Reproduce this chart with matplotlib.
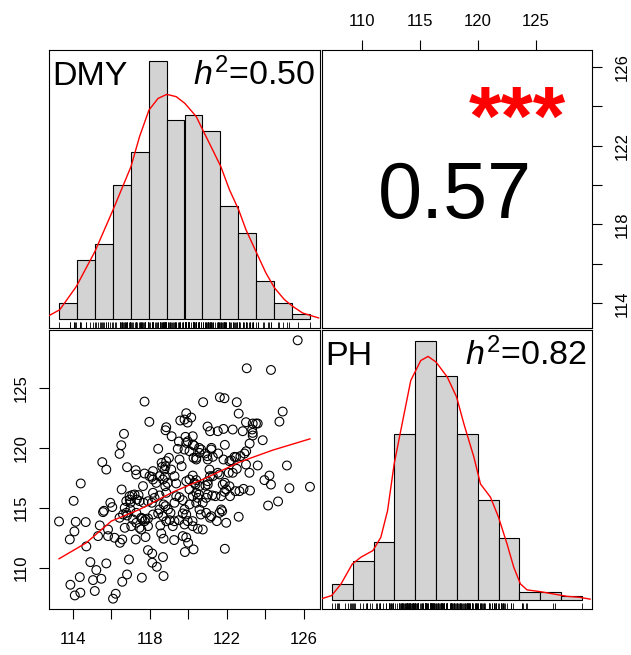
import matplotlib
matplotlib.use('Agg')
import matplotlib.pyplot as plt
import numpy as np

plt.rcParams['font.family'] = ['Liberation Sans', 'DejaVu Sans']
plt.rcParams['mathtext.fontset'] = 'custom'
plt.rcParams['mathtext.rm'] = 'Liberation Sans'
plt.rcParams['mathtext.it'] = 'Liberation Sans:italic'
plt.rcParams['mathtext.bf'] = 'Liberation Sans:bold'

# ---------------- data ----------------
variables = ['DMY', 'PH']
heritability = ['0.50', '0.82']
correlation = '0.57'
significance = '***'

dmy = [125.69, 123.04, 124.30, 117.72, 120.77, 121.64, 121.88, 122.52, 124.91, 122.62,
       124.74, 117.97, 119.58, 119.89, 120.15, 119.96, 123.00, 123.35, 123.52, 123.61,
       116.65, 118.85, 118.81, 119.13, 121.00, 121.13, 121.53, 121.83, 122.31, 122.83,
       123.32, 123.35, 123.87, 116.51, 116.42, 118.43, 119.51, 119.85, 119.89, 120.23,
       120.23, 120.30, 120.56, 121.20, 121.90, 123.19,
       115.52, 115.73, 116.81, 117.26, 117.29, 117.72, 118.16, 118.61, 118.85, 118.81,
       118.64, 118.99, 119.54, 119.65, 119.45, 120.27, 120.41, 120.58, 120.87, 120.98,
       121.27, 121.55, 121.83, 122.23, 122.48, 122.71, 122.92, 123.00, 123.61, 125.13,
       124.22,
       114.40, 114.03, 116.53, 116.94, 117.08, 117.20, 117.41, 117.64, 117.98, 118.16,
       118.33, 118.50, 118.78, 118.92, 119.28, 119.37, 119.89, 120.06, 120.23, 120.41,
       120.37, 120.58, 120.89, 121.01, 121.10, 121.13, 121.27, 121.62, 121.90, 122.10,
       122.31, 122.52, 123.18, 123.96, 124.30, 125.26, 126.33, 124.67, 124.15,
       115.94, 116.04, 115.61, 115.56, 116.77, 116.98, 117.32, 117.46, 117.67, 118.10,
       118.24, 118.50, 118.71, 118.81, 118.94, 119.07, 119.37, 119.54, 119.71, 120.23,
       120.41, 120.55, 120.75, 120.93, 121.24, 121.41, 121.71, 121.88, 121.97, 122.17,
       122.45, 122.66, 122.87, 123.21,
       113.27, 114.14, 114.66, 114.07, 113.83, 114.69, 115.39, 115.30, 115.82, 116.16,
       116.44, 116.56, 116.42, 116.60, 116.81, 116.98, 117.12, 117.29, 117.46, 117.26,
       117.60, 117.77, 117.90, 117.77, 118.16, 118.54, 118.59, 118.71, 118.43, 119.02,
       119.19, 119.26, 119.51, 119.71, 119.89, 119.97, 119.71, 119.89, 119.99, 120.27,
       119.82, 120.22, 120.49, 120.65, 120.75, 121.13, 121.48, 121.62, 121.76, 121.97,
       122.62, 121.90,
       114.90, 115.21, 115.73, 116.91, 116.81, 116.56, 115.04, 115.47, 114.35, 113.86,
       114.09, 114.38, 115.13, 116.22, 116.08, 117.58, 118.12, 118.36, 118.71, 118.68,
       117.90, 118.12,
       118.68, 118.80, 116.95, 117.90, 118.16, 118.85, 119.28, 116.69, 116.77, 117.29,
       117.55, 117.72, 118.50, 118.68, 118.85, 119.28, 115.82, 116.69, 117.03, 117.55,
       117.90, 118.10, 118.76, 119.11,
       119.80, 119.97, 119.80, 120.06, 120.67, 120.41, 121.19, 121.01, 122.14, 122.40,
       123.01, 123.35,
       120.32, 121.01, 121.53, 120.06, 120.49, 121.01, 121.79, 122.14, 119.80, 120.06,
       120.41, 120.58, 120.93, 121.19, 121.71, 119.80, 120.23]

ph = [128.97, 126.64, 126.50, 123.86, 123.81, 124.22, 124.14, 123.81, 123.03, 122.86,
      122.19, 122.17, 122.28, 122.89, 122.53, 122.11, 122.14, 122.03, 122.03, 122.03,
      121.17, 121.72, 121.47, 120.97, 121.78, 121.39, 121.39, 121.58, 121.53, 121.39,
      121.53, 121.03, 120.64, 120.22, 119.50, 119.92, 120.53, 120.92, 120.42, 120.97,
      120.28, 120.19, 120.00, 120.00, 120.25, 120.36,
      118.81, 118.19, 118.39, 118.14, 117.78, 117.86, 118.06, 118.75, 118.89, 118.47,
      118.42, 119.17, 119.03, 118.47, 119.92, 119.17, 119.17, 119.58, 119.53, 119.31,
      119.25, 119.53, 119.03, 118.97, 119.22, 119.31, 119.53, 118.61, 118.53, 118.53,
      117.69,
      117.03, 115.58, 116.53, 115.97, 116.06, 116.11, 116.06, 116.81, 117.64, 117.36,
      117.08, 117.64, 117.58, 117.08, 117.64, 117.03, 117.22, 117.36, 117.69, 117.31,
      116.94, 116.81, 116.86, 116.94, 118.19, 117.64, 117.64, 117.78, 117.08, 117.92,
      117.92, 118.25, 117.92, 117.31, 116.94, 116.64, 116.75, 115.53, 115.19,
      115.42, 115.06, 114.75, 114.64, 115.56, 115.42, 115.69, 115.56, 115.42, 115.42,
      115.83, 116.03, 115.28, 115.14, 114.86, 114.58, 115.97, 115.89, 115.64, 115.97,
      116.25, 116.11, 115.42, 115.83, 116.03, 115.97, 115.97, 116.33, 116.53, 115.97,
      116.39, 116.39, 116.58, 116.44,
      113.86, 113.83, 113.81, 113.03, 112.36, 111.78, 113.53, 112.64, 112.64, 112.50,
      112.08, 112.36, 114.17, 114.44, 114.36, 114.86, 114.03, 113.75, 113.33, 112.36,
      114.08, 114.03, 114.11, 112.56, 114.44, 113.53, 112.86, 112.42, 114.53, 113.97,
      113.47, 112.31, 113.97, 114.53, 114.44, 113.89, 112.64, 112.53, 112.08, 111.53,
      111.31, 113.89, 113.25, 114.44, 113.19, 114.17, 113.89, 114.58, 114.72, 113.75,
      114.25, 111.58,
      110.47, 109.81, 110.36, 110.69, 109.44, 108.83, 108.97, 109.08, 109.22, 108.58,
      107.69, 107.92, 108.06, 107.83, 107.42, 109.17, 110.42, 110.08, 109.31, 110.89,
      111.47, 111.19,
      117.36, 116.80, 115.69, 115.55, 116.25, 116.25, 115.42, 115.00, 114.58, 114.58,
      114.17, 113.88, 114.86, 114.30, 113.88, 113.88, 113.19, 113.33, 113.47, 113.19,
      113.47, 117.58, 118.19, 118.19,
      122.36, 120.55, 119.86, 119.72, 119.86, 119.03, 119.86, 119.03, 118.89, 119.25,
      119.72, 121.25,
      117.08, 117.22, 117.92, 116.53, 115.83, 116.11, 116.94, 116.80, 114.86, 115.28,
      115.42, 114.86, 114.58, 114.30, 114.86, 113.61, 113.47]

# histogram counts (bins span min..max of each variable)
dmy_hist_counts = [3, 11, 14, 25, 31, 48, 37, 38, 35, 21, 16, 7, 3, 1]
ph_hist_counts = [4, 10, 15, 43, 67, 58, 43, 26, 16, 2, 2, 1]

# density curves (relative to tallest bar)
dmy_density_x = [112.75, 113.31, 114.17, 115.14, 116.08, 117.01, 117.46, 117.95, 118.42,
                 118.88, 119.37, 119.82, 120.41, 120.75, 121.27, 121.69, 122.14, 122.62,
                 123.00, 123.56, 124.04, 124.49, 125.00, 125.43, 125.95, 126.78]
dmy_density_y = [0.013, 0.036, 0.126, 0.262, 0.423, 0.590, 0.707, 0.810, 0.855, 0.871,
                 0.862, 0.836, 0.785, 0.733, 0.655, 0.591, 0.501, 0.423, 0.346, 0.255,
                 0.178, 0.120, 0.075, 0.049, 0.023, 0.004]
ph_density_x = [106.48, 107.39, 108.20, 109.17, 109.91, 110.95, 111.63, 112.21, 112.78,
                113.35, 114.21, 115.07, 115.70, 116.39, 117.36, 118.16, 118.79, 119.65,
                120.22, 121.08, 121.77, 122.51, 123.09, 123.66, 124.23, 125.38, 126.52,
                127.67, 128.81, 129.67]
ph_density_y = [0.004, 0.017, 0.062, 0.139, 0.165, 0.191, 0.242, 0.345, 0.526, 0.655,
                0.848, 0.925, 0.941, 0.919, 0.861, 0.784, 0.680, 0.552, 0.448, 0.397,
                0.320, 0.216, 0.126, 0.062, 0.039, 0.032, 0.023, 0.014, 0.010, 0.003]

# smoothed fit line in the scatter panel
fit_dmy = [113.27, 114.69, 115.99, 117.46, 119.19, 120.93, 122.66, 124.39, 126.33]
fit_ph = [110.75, 112.08, 113.89, 114.86, 116.31, 117.50, 118.81, 119.81, 120.75]

dmy_ticks = [114, 116, 118, 120, 122, 124, 126]
dmy_ticklabels = ['114', '', '118', '', '122', '', '126']
ph_ticks = [110, 115, 120, 125]
ph_ticklabels = ['110', '115', '120', '125']

# ---------------- layout ----------------
W, H = 631, 655
fig = plt.figure(figsize=(W / 100, H / 100), dpi=100)


def box(x0, y0, x1, y1):
    return [x0 / W, 1 - y1 / H, (x1 - x0) / W, (y1 - y0) / H]


ax_tl = fig.add_axes(box(49, 50, 320, 328))
ax_tr = fig.add_axes(box(322, 50, 592, 328))
ax_bl = fig.add_axes(box(49, 330, 320, 609))
ax_br = fig.add_axes(box(322, 330, 592, 609))

dmy_a = np.array(dmy)
ph_a = np.array(ph)


def ext(a):
    lo, hi = a.min(), a.max()
    r = hi - lo
    return lo - 0.04 * r, hi + 0.04 * r


dmy_lim = ext(dmy_a)
ph_lim = ext(ph_a)

LW = 0.8
for ax in (ax_tl, ax_tr, ax_bl, ax_br):
    for s in ax.spines.values():
        s.set_linewidth(LW)
        s.set_color('black')
    ax.set_xticks([])
    ax.set_yticks([])
    ax.tick_params(length=7.2, width=LW, labelsize=12, colors='black')


def hist_panel(ax, data, counts, dens_x, dens_y, lim, name, h2):
    counts = np.array(counts, dtype=float)
    edges = np.linspace(data.min(), data.max(), len(counts) + 1)
    ax.bar(edges[:-1], counts / counts.max(), width=np.diff(edges), align='edge',
           color='#D3D3D3', edgecolor='black', linewidth=LW, zorder=2)
    ax.plot(dens_x, dens_y, color='red', lw=1.0, zorder=3)
    ax.vlines(data, 0, 0.023, transform=ax.get_xaxis_transform(), color='black',
              lw=0.6, zorder=3)
    ax.set_xlim(*lim)
    ax.set_ylim(-0.035, 1.043)
    ax.text(0.013, 0.874, name, transform=ax.transAxes, fontsize=24.5,
            ha='left', va='baseline', zorder=5)
    ax.text(0.982, 0.874, r'$h^{2}$=' + h2, transform=ax.transAxes, fontsize=24.5,
            ha='right', va='baseline', zorder=5)


hist_panel(ax_tl, dmy_a, dmy_hist_counts, dmy_density_x, dmy_density_y, dmy_lim,
           variables[0], heritability[0])
hist_panel(ax_br, ph_a, ph_hist_counts, ph_density_x, ph_density_y, ph_lim,
           variables[1], heritability[1])

# scatter panel
ax_bl.scatter(dmy_a, ph_a, s=40, facecolors='none', edgecolors='black', linewidths=0.8,
              zorder=2)
ax_bl.plot(fit_dmy, fit_ph, color='red', lw=1.0, zorder=3)
ax_bl.set_xlim(*dmy_lim)
ax_bl.set_ylim(*ph_lim)
ax_bl.set_xticks(dmy_ticks)
ax_bl.set_xticklabels(dmy_ticklabels)
ax_bl.set_yticks(ph_ticks)
ax_bl.set_yticklabels(ph_ticklabels, rotation=90, va='center')
ax_bl.tick_params(axis='x', pad=9.5)
ax_bl.tick_params(axis='y', pad=7.5)

# correlation panel
ax_tr.set_xlim(*ph_lim)
ax_tr.set_ylim(*dmy_lim)
ax_tr.xaxis.tick_top()
ax_tr.yaxis.tick_right()
ax_tr.set_xticks(ph_ticks)
ax_tr.set_xticklabels(ph_ticklabels)
ax_tr.set_yticks(dmy_ticks)
ax_tr.set_yticklabels(dmy_ticklabels, rotation=90, va='center')
ax_tr.tick_params(axis='x', pad=8)
ax_tr.tick_params(axis='y', pad=9)
ax_tr.text(0.494, 0.395, correlation, transform=ax_tr.transAxes, fontsize=57,
           ha='center', va='baseline')
ax_tr.text(0.902, 0.658, significance, transform=ax_tr.transAxes, fontsize=60,
           fontweight='bold', color='red', ha='right', va='baseline')

fig.savefig('out.png', dpi=100)
